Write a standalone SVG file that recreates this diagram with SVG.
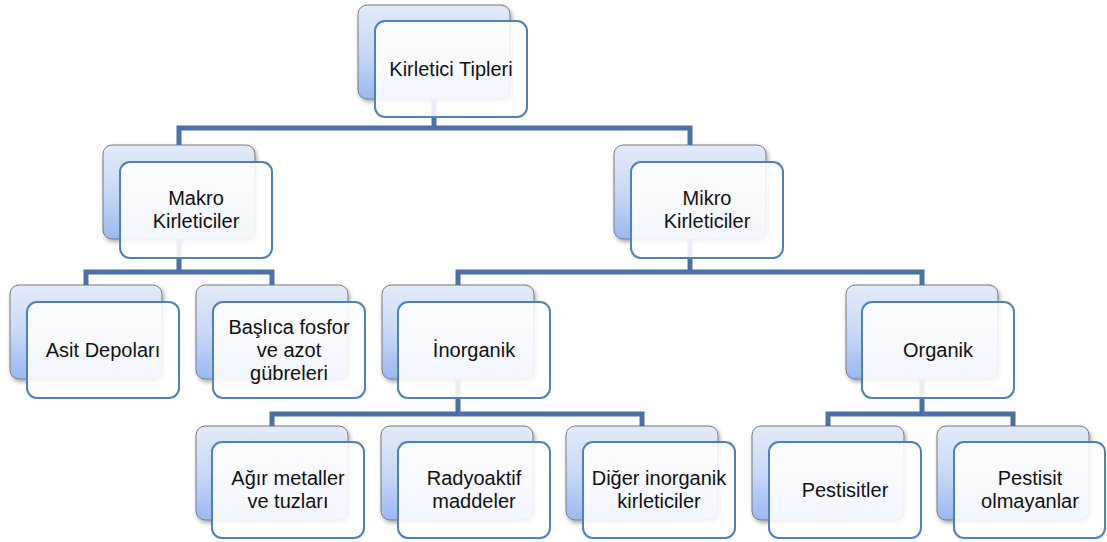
<svg xmlns="http://www.w3.org/2000/svg" width="1107" height="542" viewBox="0 0 1107 542">
<defs>
<linearGradient id="bg" x1="0" y1="0" x2="0" y2="1">
<stop offset="0" stop-color="#e3ebf9"/>
<stop offset="0.5" stop-color="#c8d9f8"/>
<stop offset="1" stop-color="#98b9f2"/>
</linearGradient>
<filter id="sh" x="-10%" y="-10%" width="125%" height="130%">
<feDropShadow dx="1.5" dy="2.5" stdDeviation="2" flood-color="#000" flood-opacity="0.35"/>
</filter>
</defs>
<style>
.back{fill:url(#bg);stroke:#7a7a7a;stroke-width:1;filter:url(#sh)}
.front{fill:#ffffff;fill-opacity:0.88;stroke:#4f81bd;stroke-width:2}
.conn{fill:none;stroke:#4a70a6;stroke-width:5;stroke-linejoin:miter}
text{font-family:"Liberation Sans",Arial,sans-serif;font-size:20px;fill:#111;text-anchor:middle}
</style>
<rect width="1107" height="542" fill="#ffffff"/>

<g id="backs">
<rect class="back" x="358" y="5" width="152" height="94" rx="9"/>
<rect class="back" x="103" y="145" width="152" height="94" rx="9"/>
<rect class="back" x="614" y="145" width="152" height="94" rx="9"/>
<rect class="back" x="10" y="285" width="152" height="94" rx="9"/>
<rect class="back" x="196" y="285" width="152" height="94" rx="9"/>
<rect class="back" x="382" y="285" width="152" height="94" rx="9"/>
<rect class="back" x="846" y="285" width="152" height="94" rx="9"/>
<rect class="back" x="196" y="426" width="152" height="94" rx="9"/>
<rect class="back" x="381" y="426" width="152" height="94" rx="9"/>
<rect class="back" x="566" y="426" width="152" height="94" rx="9"/>
<rect class="back" x="752" y="426" width="152" height="94" rx="9"/>
<rect class="back" x="937" y="426" width="152" height="94" rx="9"/>
</g>

<g id="connectors">
<path class="conn" d="M434 99 V128 M179 145 V128 H690 V145"/>
<path class="conn" d="M179 239 V272 M86 285 V272 H272 V285"/>
<path class="conn" d="M690 239 V272 M458 285 V272 H922 V285"/>
<path class="conn" d="M458 379 V414 M272 426 V414 H642 V426"/>
<path class="conn" d="M922 379 V414 M828 426 V414 H1013 V426"/>
</g>

<g id="root">
<rect class="front" x="375" y="21" width="152" height="96" rx="10"/>
<text x="451" y="76">Kirletici Tipleri</text>
</g>
<g id="makro">
<rect class="front" x="120" y="162" width="152" height="96" rx="10"/>
<text x="196" y="205">Makro</text>
<text x="196" y="228">Kirleticiler</text>
</g>
<g id="mikro">
<rect class="front" x="631" y="162" width="152" height="96" rx="10"/>
<text x="707" y="205">Mikro</text>
<text x="707" y="228">Kirleticiler</text>
</g>
<g id="asit">
<rect class="front" x="27" y="302" width="152" height="96" rx="10"/>
<text x="103" y="357">Asit Depoları</text>
</g>
<g id="baslica">
<rect class="front" x="213" y="302" width="152" height="96" rx="10"/>
<text x="289" y="334">Başlıca fosfor</text>
<text x="289" y="357">ve azot</text>
<text x="289" y="380">gübreleri</text>
</g>
<g id="inorganik">
<rect class="front" x="398" y="302" width="152" height="96" rx="10"/>
<text x="474" y="357">İnorganik</text>
</g>
<g id="organik">
<rect class="front" x="862" y="302" width="152" height="96" rx="10"/>
<text x="938" y="357">Organik</text>
</g>
<g id="agir">
<rect class="front" x="212" y="442" width="152" height="96" rx="10"/>
<text x="288" y="485">Ağır metaller</text>
<text x="288" y="508">ve tuzları</text>
</g>
<g id="radyoaktif">
<rect class="front" x="398" y="442" width="152" height="96" rx="10"/>
<text x="474" y="485">Radyoaktif</text>
<text x="474" y="508">maddeler</text>
</g>
<g id="diger">
<rect class="front" x="583" y="442" width="152" height="96" rx="10"/>
<text x="659" y="485">Diğer inorganik</text>
<text x="659" y="508">kirleticiler</text>
</g>
<g id="pestisitler">
<rect class="front" x="769" y="442" width="152" height="96" rx="10"/>
<text x="845" y="497">Pestisitler</text>
</g>
<g id="pestisit-olmayanlar">
<rect class="front" x="954" y="442" width="151" height="96" rx="10"/>
<text x="1030" y="485">Pestisit</text>
<text x="1030" y="508">olmayanlar</text>
</g>
</svg>
